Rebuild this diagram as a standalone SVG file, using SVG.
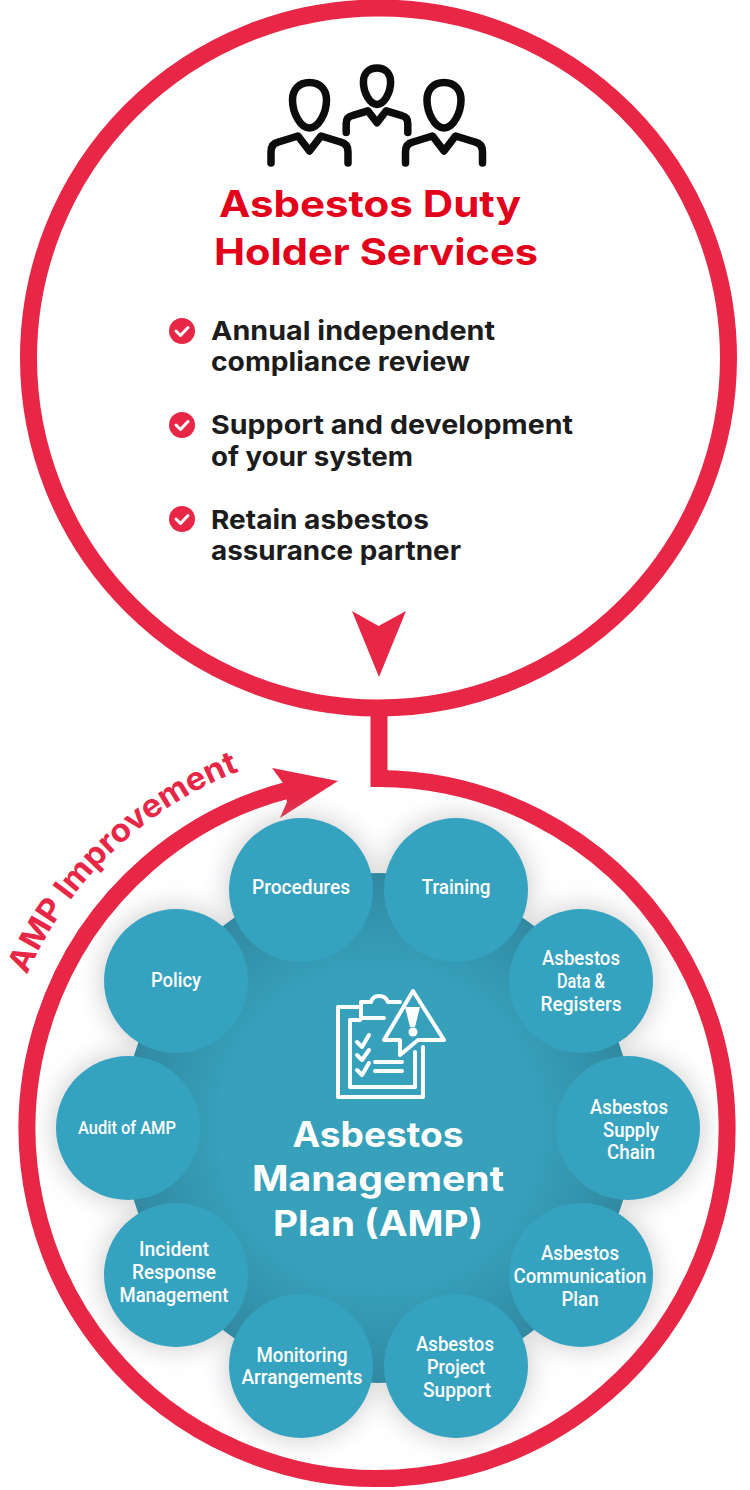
<svg xmlns="http://www.w3.org/2000/svg" width="750" height="1490" viewBox="0 0 750 1490">
<style>
.ring{fill:none;stroke:#e82646;stroke-width:17}
.red{fill:#e82646}
.ic{fill:none;stroke:#0c0c0c;stroke-width:7.500;stroke-linecap:round;stroke-linejoin:round;vector-effect:non-scaling-stroke}
.wi{fill:none;stroke:#fff;stroke-width:4;stroke-linejoin:round;stroke-linecap:round}
.title{font:700 37px Inter,"Liberation Sans",sans-serif;fill:#e2001a;text-anchor:middle}
.item{font:700 26px Inter,"Liberation Sans",sans-serif;fill:#1c1c1c}
.big{font:700 35px Inter,"Liberation Sans",sans-serif;fill:#fff;text-anchor:middle}
.lb{font:500 21px Roboto,"Liberation Sans",sans-serif;fill:#fff;text-anchor:middle}
.nd{fill:#35a3bf}
.ck{fill:none;stroke:#fff;stroke-width:3;stroke-linecap:round;stroke-linejoin:round}
</style>
<defs>
<filter id="sh" x="-30%" y="-30%" width="160%" height="160%"><feGaussianBlur stdDeviation="14"/></filter>
<radialGradient id="hubg"><stop offset=".6" stop-color="#37a1bc"/><stop offset="1" stop-color="#3189a1"/></radialGradient>
<path id="tp" d="M27 975A383 383 0 0 1 311.500 751"/>
<g id="person"><path class="ic" d="M0 -22.500C-11 -22.500 -17 -15 -17 -5C-17 8 -9 23 0 23C9 23 17 8 17 -5C17 -15 11 -22.500 0 -22.500Z"/><path class="ic" d="M-38.500 58V47C-38.500 41 -36 38 -31 37L-11.500 31L0 46L11.500 31L31 37C36 38 38.500 41 38.500 47V58"/></g>
</defs>
<rect width="750" height="1490" fill="#fff"/>
<g id="connectors">
<circle class="ring" cx="378.500" cy="358" r="350"/>
<path class="ring" stroke-linejoin="miter" d="M379 712V778.500A350 350 0 1 1 292 789"/>
<path class="red" d="M352 611L378.500 626L406 611L379 677Z"/>
<path class="red" d="M272 768L338 781L280 818L287 802L283 783Z"/>
</g>
<g id="hub">
<g filter="url(#sh)" fill="#9a9a9a" opacity=".55"><circle cx="301" cy="890" r="72"/><circle cx="456" cy="890" r="72"/><circle cx="176" cy="981" r="72"/><circle cx="581" cy="981" r="72"/><circle cx="128" cy="1128" r="72"/><circle cx="628" cy="1128" r="72"/><circle cx="176" cy="1275" r="72"/><circle cx="581" cy="1275" r="72"/><circle cx="301" cy="1366" r="72"/><circle cx="456" cy="1366" r="72"/></g>
<circle cx="378.500" cy="1128" r="255" fill="url(#hubg)"/>
</g>
<g id="duty-holder">
<use href="#person" transform="translate(309.500 105)"/>
<use href="#person" transform="translate(377 86) scale(.8)"/>
<use href="#person" transform="translate(444 105)"/>
<text class="title" x="370" y="217" textLength="302" lengthAdjust="spacingAndGlyphs">Asbestos Duty</text>
<text class="title" x="376" y="265" textLength="324" lengthAdjust="spacingAndGlyphs">Holder Services</text>
<circle class="red" cx="182" cy="331" r="13"/><path class="ck" d="M176 331L180.500 335.500L188 327.500"/>
<text class="item" x="211" y="340" textLength="284" lengthAdjust="spacingAndGlyphs">Annual independent</text>
<text class="item" x="211" y="371" textLength="259" lengthAdjust="spacingAndGlyphs">compliance review</text>
<circle class="red" cx="182" cy="425" r="13"/><path class="ck" d="M176 425L180.500 429.500L188 421.500"/>
<text class="item" x="211" y="434" textLength="362" lengthAdjust="spacingAndGlyphs">Support and development</text>
<text class="item" x="211" y="466" textLength="202" lengthAdjust="spacingAndGlyphs">of your system</text>
<circle class="red" cx="182" cy="519" r="13"/><path class="ck" d="M176 519L180.500 523.500L188 515.500"/>
<text class="item" x="211" y="529" textLength="218" lengthAdjust="spacingAndGlyphs">Retain asbestos</text>
<text class="item" x="211" y="560" textLength="250" lengthAdjust="spacingAndGlyphs">assurance partner</text>
</g>
<g id="amp-improvement">
<text font-family="Inter,'Liberation Sans',sans-serif" font-weight="700" font-size="32" fill="#e82646" textLength="302" lengthAdjust="spacingAndGlyphs"><textPath href="#tp" textLength="302" lengthAdjust="spacingAndGlyphs">AMP Improvement</textPath></text>
</g>
<g id="amp-centre">
<path class="wi" d="M360 1007H338V1097H423V1047"/>
<path class="wi" d="M360 1020H350V1087H415V1052"/>
<path class="wi" d="M361 1018V1002H371C373 994 385 994 388 1002H400M361 1018H384"/>
<path class="wi" d="M413 991L444 1040H418L400 1055V1040H384Z"/>
<path fill="#fff" d="M405 1007H420L415 1027H410Z"/><circle cx="413" cy="1032" r="4.500" fill="#fff"/>
<path class="wi" d="M357 1042L362 1047L369 1035M357 1055L362 1060L369 1050M357 1070L362 1075L369 1063M375 1062H402M375 1071H402"/>
<text class="big" x="378" y="1147" textLength="171" lengthAdjust="spacingAndGlyphs">Asbestos</text>
<text class="big" x="378" y="1191" textLength="252" lengthAdjust="spacingAndGlyphs">Management</text>
<text class="big" x="378" y="1236" textLength="210" lengthAdjust="spacingAndGlyphs">Plan (AMP)</text>
</g>
<g id="n-procedures"><circle class="nd" cx="301" cy="890" r="72"/><text class="lb" x="301" y="894" textLength="98" lengthAdjust="spacingAndGlyphs">Procedures</text></g>
<g id="n-training"><circle class="nd" cx="456" cy="890" r="72"/><text class="lb" x="456" y="894" textLength="69" lengthAdjust="spacingAndGlyphs">Training</text></g>
<g id="n-data"><circle class="nd" cx="581" cy="981" r="72"/><text class="lb" x="581" y="965" textLength="78" lengthAdjust="spacingAndGlyphs">Asbestos</text><text class="lb" x="581" y="988" textLength="48" lengthAdjust="spacingAndGlyphs">Data &amp;</text><text class="lb" x="581" y="1011" textLength="81" lengthAdjust="spacingAndGlyphs">Registers</text></g>
<g id="n-supply"><circle class="nd" cx="628" cy="1128" r="72"/><text class="lb" x="629" y="1114" textLength="78" lengthAdjust="spacingAndGlyphs">Asbestos</text><text class="lb" x="631" y="1137" textLength="56" lengthAdjust="spacingAndGlyphs">Supply</text><text class="lb" x="631" y="1159" textLength="48" lengthAdjust="spacingAndGlyphs">Chain</text></g>
<g id="n-comm"><circle class="nd" cx="581" cy="1275" r="72"/><text class="lb" x="580" y="1260" textLength="78" lengthAdjust="spacingAndGlyphs">Asbestos</text><text class="lb" x="580" y="1283" textLength="133" lengthAdjust="spacingAndGlyphs">Communication</text><text class="lb" x="580" y="1306" textLength="37" lengthAdjust="spacingAndGlyphs">Plan</text></g>
<g id="n-project"><circle class="nd" cx="456" cy="1366" r="72"/><text class="lb" x="455" y="1351" textLength="78" lengthAdjust="spacingAndGlyphs">Asbestos</text><text class="lb" x="456" y="1374" textLength="58" lengthAdjust="spacingAndGlyphs">Project</text><text class="lb" x="457" y="1397" textLength="68" lengthAdjust="spacingAndGlyphs">Support</text></g>
<g id="n-monitoring"><circle class="nd" cx="301" cy="1366" r="72"/><text class="lb" x="302" y="1362" textLength="91" lengthAdjust="spacingAndGlyphs">Monitoring</text><text class="lb" x="302" y="1384" textLength="121" lengthAdjust="spacingAndGlyphs">Arrangements</text></g>
<g id="n-incident"><circle class="nd" cx="176" cy="1275" r="72"/><text class="lb" x="174" y="1256" textLength="70" lengthAdjust="spacingAndGlyphs">Incident</text><text class="lb" x="174" y="1279" textLength="84" lengthAdjust="spacingAndGlyphs">Response</text><text class="lb" x="174" y="1302" textLength="109" lengthAdjust="spacingAndGlyphs">Management</text></g>
<g id="n-audit"><circle class="nd" cx="128" cy="1128" r="72"/><text class="lb" x="127" y="1134" style="font-size:18px" textLength="98" lengthAdjust="spacingAndGlyphs">Audit of AMP</text></g>
<g id="n-policy"><circle class="nd" cx="176" cy="981" r="72"/><text class="lb" x="176" y="987" textLength="50" lengthAdjust="spacingAndGlyphs">Policy</text></g>
</svg>
